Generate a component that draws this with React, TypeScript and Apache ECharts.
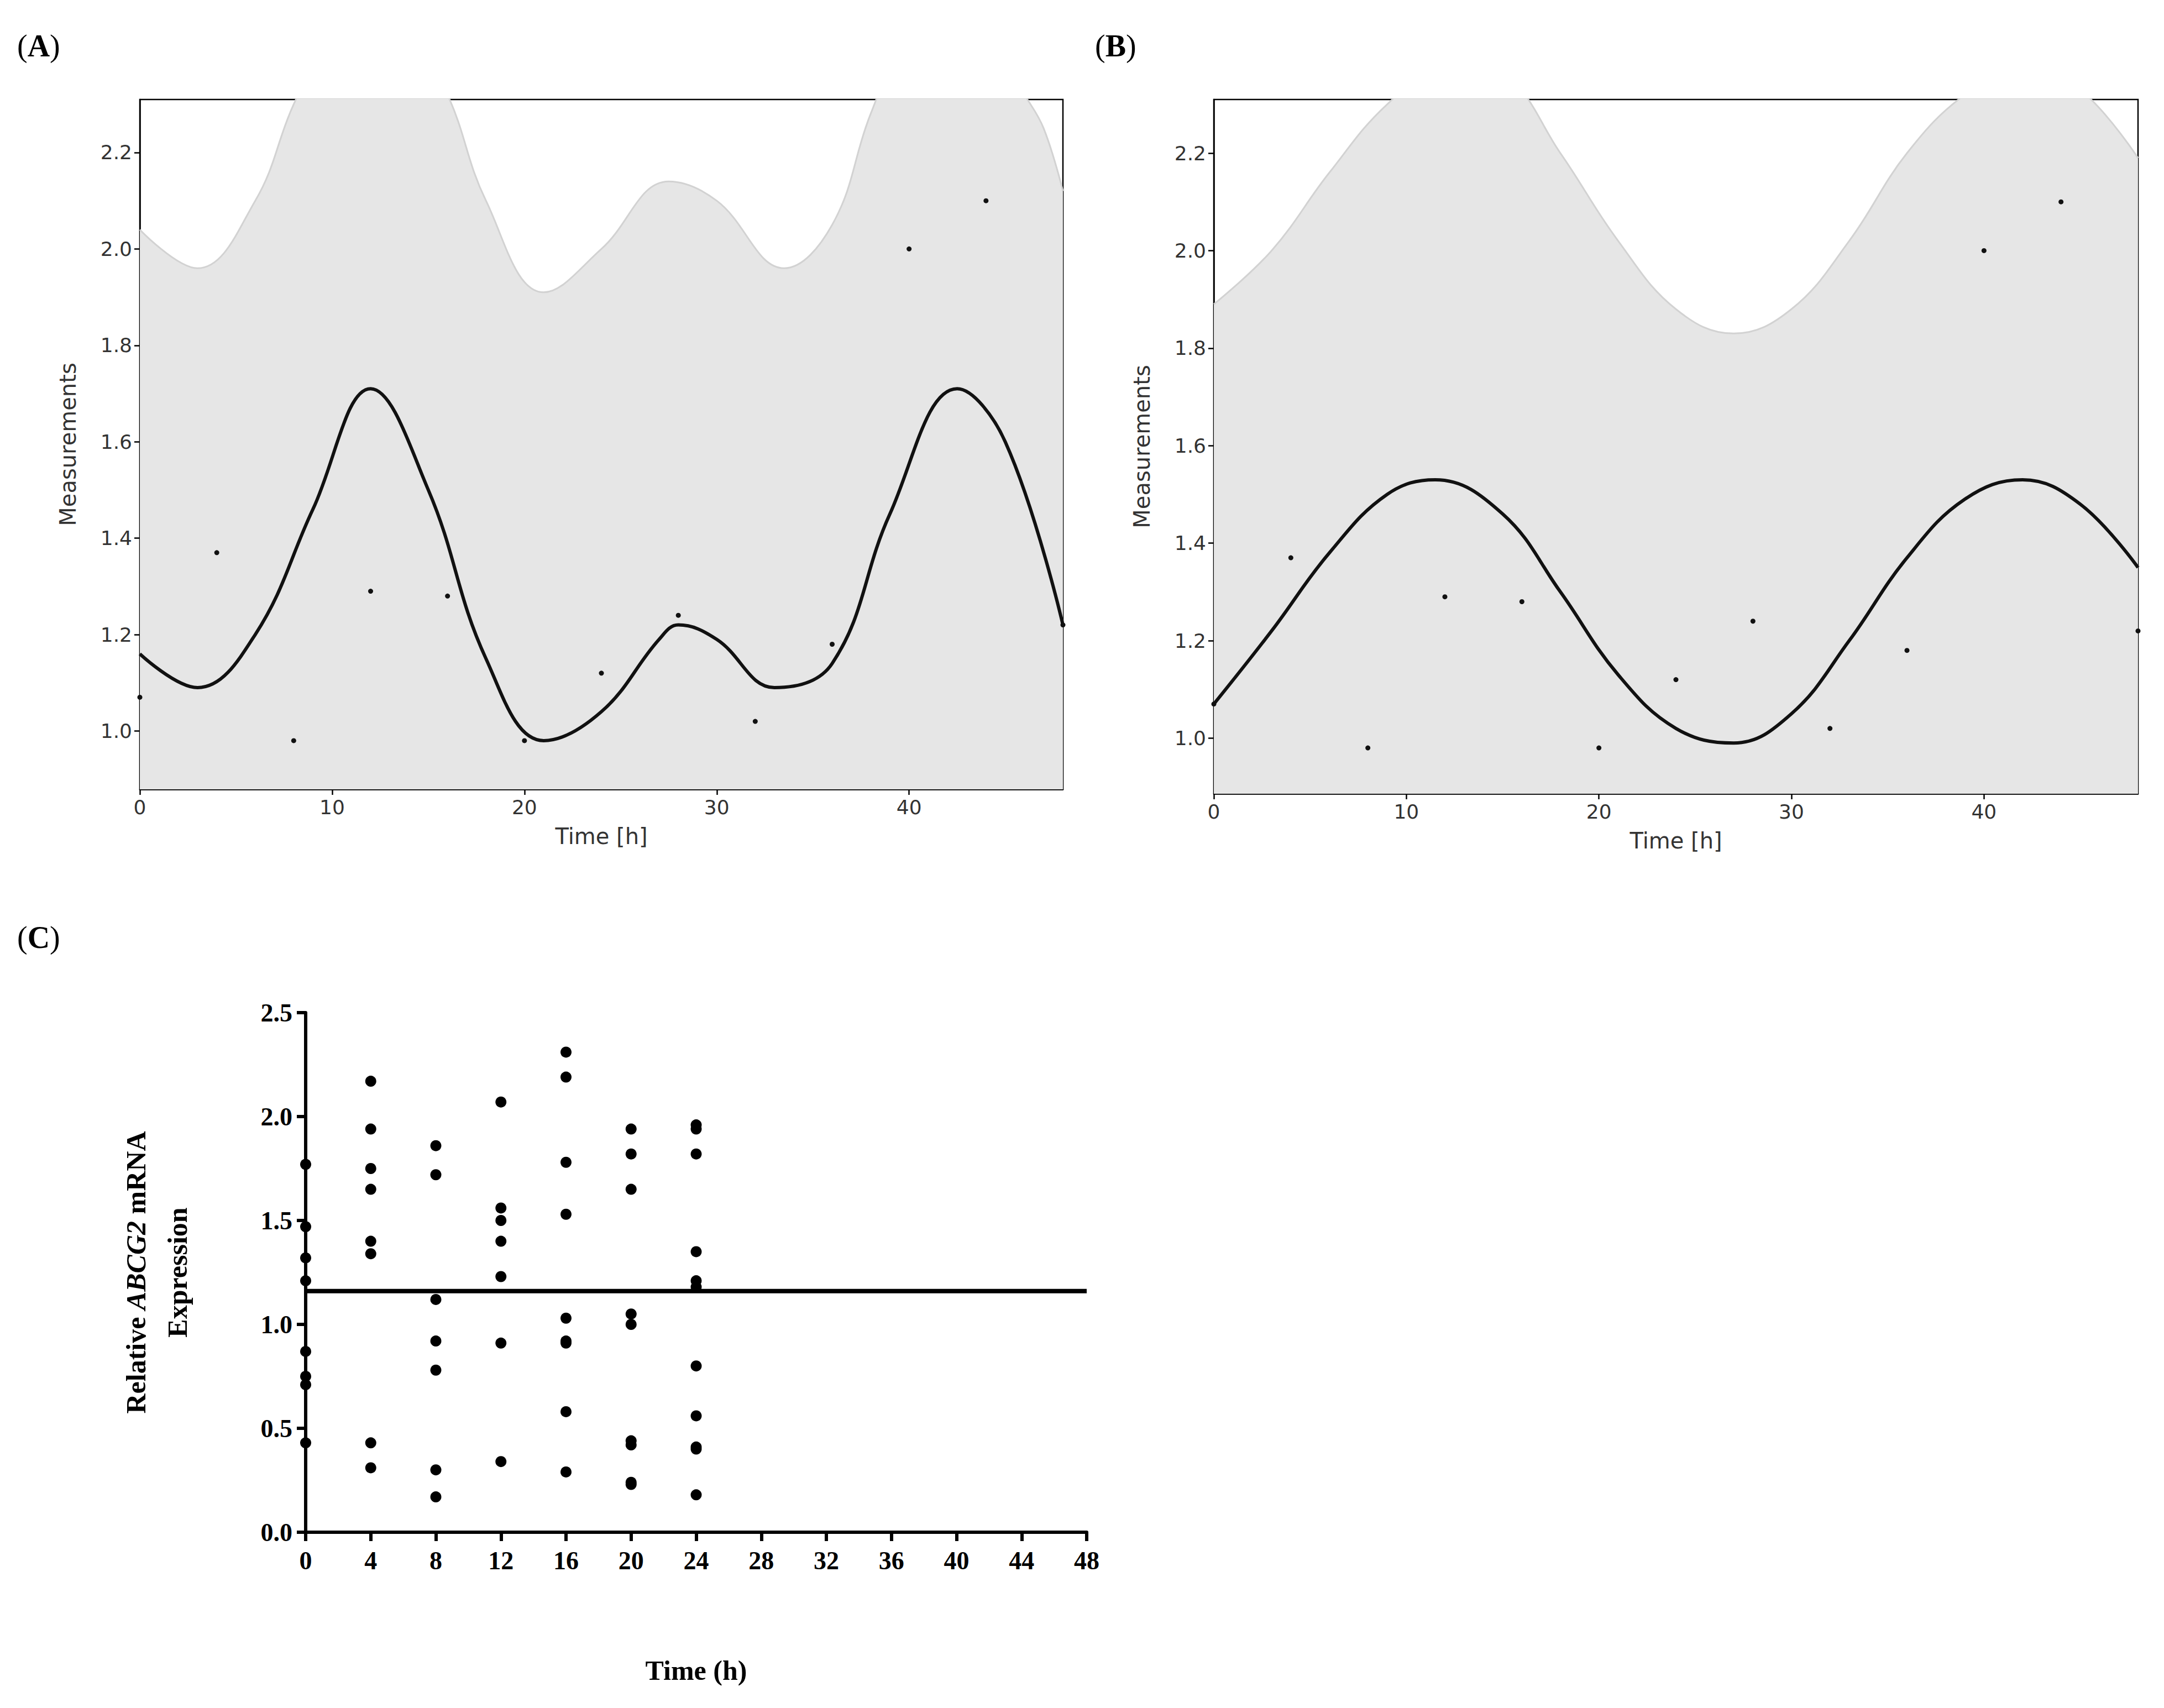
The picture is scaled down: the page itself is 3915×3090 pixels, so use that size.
import { useEffect, useRef } from 'react';
import * as echarts from 'echarts';

// panel A / B measured points (every 4 h)
const measTimes = [0, 4, 8, 12, 16, 20, 24, 28, 32, 36, 40, 44, 48];
const measValues = [1.07, 1.37, 0.98, 1.29, 1.28, 0.98, 1.12, 1.24, 1.02, 1.18, 2.0, 2.1, 1.22];

// panel A fitted curve and upper band
const fitATimes = [0, 3, 6, 9, 12, 15, 18, 21, 24, 27, 28, 30, 33, 36, 39, 42.5, 45, 48];
const fitAValues = [1.16, 1.09, 1.2, 1.46, 1.71, 1.5, 1.15, 0.98, 1.04, 1.19, 1.22, 1.19, 1.09, 1.14, 1.45, 1.71, 1.6, 1.22];
const bandATimes = [0, 3, 6, 8, 10, 12, 14, 16, 18, 21, 24, 27.5, 30, 33.5, 36, 38, 40, 42, 44, 46, 47, 48];
const bandAValues = [2.04, 1.96, 2.1, 2.3, 2.45, 2.5, 2.45, 2.32, 2.1, 1.91, 2.0, 2.14, 2.1, 1.96, 2.05, 2.28, 2.45, 2.5, 2.45, 2.32, 2.25, 2.12];

// panel B fitted curve and upper band
const fitBTimes = [0, 3, 6, 9, 11.5, 15, 18, 21, 24, 27, 30, 33, 36, 39, 42, 45, 48];
const fitBValues = [1.07, 1.22, 1.38, 1.5, 1.53, 1.46, 1.3, 1.13, 1.02, 0.99, 1.05, 1.2, 1.37, 1.49, 1.53, 1.48, 1.35];
const bandBTimes = [0, 3, 6, 9, 12, 15, 18, 21, 24, 27, 30, 33, 36, 39, 42, 45, 48];
const bandBValues = [1.89, 2.0, 2.16, 2.3, 2.38, 2.36, 2.2, 2.02, 1.88, 1.83, 1.88, 2.02, 2.2, 2.32, 2.38, 2.33, 2.19];

// panel C replicate expression per time point
const cTimes = [0, 4, 8, 12, 16, 20, 24];
const cValues = [
  [1.77, 1.47, 1.32, 1.21, 0.87, 0.75, 0.71, 0.43],
  [2.17, 1.94, 1.75, 1.65, 1.4, 1.34, 0.43, 0.31],
  [1.86, 1.72, 1.12, 0.92, 0.78, 0.3, 0.17],
  [2.07, 1.56, 1.5, 1.4, 1.23, 0.91, 0.34],
  [2.31, 2.19, 1.78, 1.53, 1.03, 0.92, 0.91, 0.58, 0.29],
  [1.94, 1.82, 1.65, 1.05, 1.0, 0.44, 0.42, 0.24, 0.23],
  [1.96, 1.94, 1.82, 1.35, 1.21, 1.18, 0.8, 0.56, 0.41, 0.4, 0.18],
];
const cMean = 1.16;
const abTicksY = [1.0, 1.2, 1.4, 1.6, 1.8, 2.0, 2.2];
const abTicksX = [0, 10, 20, 30, 40];

const zip = (xs: number[], ys: number[]) => xs.map((x, i) => [x, ys[i]]);

const sans = 'DejaVu Sans';
const serif = 'Liberation Serif';

export default function App() {
  const ref = useRef<HTMLDivElement>(null);

  useEffect(() => {
    if (!ref.current) return;
    const chart = echarts.init(ref.current, undefined, { renderer: 'svg' });

    const abX = (gridIndex: number) => ({
      type: 'value' as const,
      gridIndex,
      min: 0,
      max: 48,
      name: 'Time [h]',
      nameLocation: 'middle' as const,
      nameGap: 65,
      nameTextStyle: { fontFamily: sans, fontSize: 40, color: '#333' },
      axisLine: { lineStyle: { color: '#000', width: 2.5 } },
      axisTick: { customValues: abTicksX, length: 10, lineStyle: { color: '#000', width: 2.5 } },
      axisLabel: { customValues: abTicksX, fontFamily: sans, fontSize: 36, color: '#333', margin: 14 },
      splitLine: { show: false },
    });
    const abY = (gridIndex: number, min: number) => ({
      type: 'value' as const,
      gridIndex,
      min,
      max: 2.31,
      name: 'Measurements',
      nameLocation: 'middle' as const,
      nameGap: 110,
      nameTextStyle: { fontFamily: sans, fontSize: 40, color: '#333' },
      axisLine: { lineStyle: { color: '#000', width: 2.5 } },
      axisTick: { customValues: abTicksY, length: 10, lineStyle: { color: '#000', width: 2.5 } },
      axisLabel: { customValues: abTicksY, fontFamily: sans, fontSize: 36, color: '#333', margin: 14, formatter: (v: number) => v.toFixed(1) },
      splitLine: { show: false },
    });
    const band = (i: number, xs: number[], ys: number[]) => ({
      type: 'line' as const,
      xAxisIndex: i,
      yAxisIndex: i,
      data: zip(xs, ys),
      smooth: 0.4,
      symbol: 'none',
      clip: true,
      lineStyle: { color: '#d2d2d2', width: 3 },
      areaStyle: { color: '#e6e6e6', opacity: 1, origin: 'start' as const },
    });
    const fit = (i: number, xs: number[], ys: number[]) => ({
      type: 'line' as const,
      xAxisIndex: i,
      yAxisIndex: i,
      data: zip(xs, ys),
      smooth: 0.4,
      symbol: 'none',
      clip: true,
      lineStyle: { color: '#111', width: 6 },
      z: 3,
    });
    const dots = (i: number) => ({
      type: 'scatter' as const,
      xAxisIndex: i,
      yAxisIndex: i,
      data: zip(measTimes, measValues),
      symbolSize: 9,
      itemStyle: { color: '#111', opacity: 1 },
      z: 4,
    });

    const cPoints: number[][] = [];
    cTimes.forEach((t, i) => cValues[i].forEach((v) => cPoints.push([t, v])));

    chart.setOption({
      animation: false,
      backgroundColor: '#fff',
      title: [
        { text: '({a|A})', left: 18, top: 42 },
        { text: '({a|B})', left: 1968, top: 42 },
        { text: '({a|C})', left: 18, top: 1655 },
      ].map((t) => ({
        ...t,
        textStyle: { fontFamily: serif, fontSize: 56, fontWeight: 'normal', color: '#000', rich: { a: { fontFamily: serif, fontSize: 56, fontWeight: 'bold', color: '#000' } } },
      })),
      grid: [
        { left: 245, top: 172, width: 1670, height: 1248, show: true, borderColor: '#000', borderWidth: 2.5, backgroundColor: 'transparent' },
        { left: 2188, top: 172, width: 1672, height: 1256, show: true, borderColor: '#000', borderWidth: 2.5, backgroundColor: 'transparent' },
        { left: 545, top: 1824, width: 1413, height: 940 },
      ],
      xAxis: [
        abX(0),
        abX(1),
        {
          type: 'value',
          gridIndex: 2,
          min: 0,
          max: 48,
          interval: 4,
          name: 'Time (h)',
          nameLocation: 'middle',
          nameGap: 225,
          nameTextStyle: { fontFamily: serif, fontSize: 50, fontWeight: 'bold', color: '#000' },
          axisLine: { lineStyle: { color: '#000', width: 6 } },
          axisTick: { length: 16, lineStyle: { color: '#000', width: 6 } },
          axisLabel: { fontFamily: serif, fontSize: 46, fontWeight: 'bold', color: '#000', margin: 28 },
          splitLine: { show: false },
        },
      ],
      yAxis: [
        abY(0, 0.879),
        abY(1, 0.886),
        {
          type: 'value',
          gridIndex: 2,
          min: 0,
          max: 2.5,
          interval: 0.5,
          name: 'Relative {i|ABCG2} mRNA\nExpression',
          nameLocation: 'middle',
          nameGap: 195,
          nameTextStyle: {
            fontFamily: serif, fontSize: 50, fontWeight: 'bold', color: '#000', lineHeight: 75,
            rich: { i: { fontFamily: serif, fontSize: 50, fontWeight: 'bold', fontStyle: 'italic', color: '#000' } },
          },
          axisLine: { show: true, lineStyle: { color: '#000', width: 6 } },
          axisTick: { show: true, length: 16, lineStyle: { color: '#000', width: 6 } },
          axisLabel: { fontFamily: serif, fontSize: 46, fontWeight: 'bold', color: '#000', margin: 24, formatter: (v: number) => v.toFixed(1) },
          splitLine: { show: false },
        },
      ],
      series: [
        band(0, bandATimes, bandAValues),
        fit(0, fitATimes, fitAValues),
        dots(0),
        band(1, bandBTimes, bandBValues),
        fit(1, fitBTimes, fitBValues),
        dots(1),
        {
          type: 'scatter',
          xAxisIndex: 2,
          yAxisIndex: 2,
          data: cPoints,
          symbolSize: 20,
          itemStyle: { color: '#000', opacity: 1 },
          clip: false,
          z: 4,
        },
        {
          type: 'line',
          xAxisIndex: 2,
          yAxisIndex: 2,
          data: [[0, cMean], [48, cMean]],
          symbol: 'none',
          lineStyle: { color: '#000', width: 8 },
          z: 3,
        },
      ],
    });

    return () => chart.dispose();
  }, []);

  return <div ref={ref} style={{ width: 3899, height: 3074 }} />;
}
